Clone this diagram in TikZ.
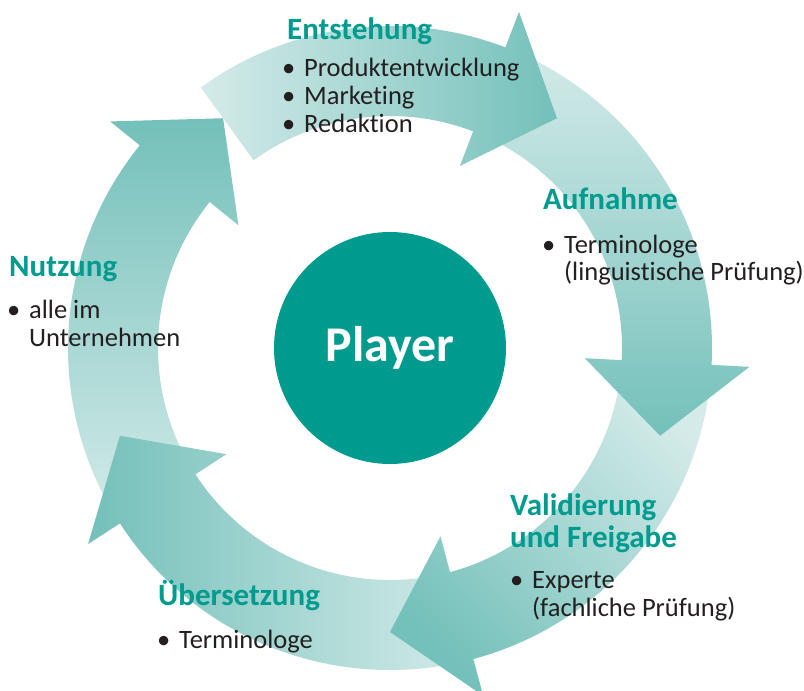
\documentclass[tikz,border=0pt]{standalone}
\usepackage{fontspec}
\setmainfont{Carlito}[Ligatures=NoCommon]
\definecolor{playerteal}{RGB}{0,155,143}
\definecolor{arrowdark}{RGB}{116,192,186}
\definecolor{arrowlight}{RGB}{212,235,233}
\definecolor{itemblack}{RGB}{35,31,32}
\tikzset{
  stage/.style={anchor=base west, inner sep=0pt, text=playerteal, font=\fontsize{31}{32}\selectfont\bfseries},
  items/.style={anchor=base west, inner sep=0pt, text=itemblack, font=\fontsize{26.5}{28}\selectfont},
}
\newcommand{\bul}{\makebox[22pt][l]{\textbullet}}
\def\rin{232}
\def\rout{322}
\def\rbi{195}
\def\rbo{360}
\def\rtip{284}
% #1 tail angle, #2 head base angle, #3 shading angle
\newcommand{\ringarrow}[3]{%
  \path[top color=arrowdark, bottom color=arrowlight, shading angle=#3]
    (#1:\rin) -- (#1:\rout) arc[start angle=#1, end angle=#2, radius=\rout]
    -- (#2:\rbo) -- (#2-15:\rtip) -- (#2:\rbi) -- (#2:\rin)
    arc[start angle=#2, end angle=#1, radius=\rin] -- cycle;}
\begin{document}
\begin{tikzpicture}[x=1pt, y=1pt]
  \useasboundingbox (-390,-343) rectangle (414,348);
  \ringarrow{213}{141}{0}
  \ringarrow{-75}{-147}{90}
  \ringarrow{-3}{-75}{135}
  \ringarrow{69}{-3}{180}
  \ringarrow{126}{69}{-90}
  \node[circle, fill=playerteal, minimum size=232pt, inner sep=0pt, text=white,
        font=\fontsize{50}{50}\selectfont\bfseries] (player) at (0,0) {Player};
  \node[stage] (entstehung) at (-103,308) {Entstehung};
  \node[items] (entitems) at (-108,271) {\begin{tabular}[t]{@{}l@{}l@{}}
      \bul & Produktentwicklung\\ \bul & Marketing\\ \bul & Redaktion\end{tabular}};
  \node[stage] (aufnahme) at (153,138) {Aufnahme};
  \node[items] (aufitems) at (152,95) {\begin{tabular}[t]{@{}l@{}l@{}}
      \bul & Terminologe\\ & (linguistische Prüfung)\end{tabular}};
  \node[stage] (validierung) at (120,-167) {\begin{tabular}[t]{@{}l@{}}
      Validierung\\ und Freigabe\end{tabular}};
  \node[items] (valitems) at (120,-240) {\begin{tabular}[t]{@{}l@{}l@{}}
      \bul & Experte\\ & (fachliche Prüfung)\end{tabular}};
  \node[stage] (uebersetzung) at (-232,-257) {Übersetzung};
  \node[items] (ueitems) at (-233,-300) {\begin{tabular}[t]{@{}l@{}l@{}}
      \bul & Terminologe\end{tabular}};
  \node[stage] (nutzung) at (-381,71) {Nutzung};
  \node[items] (nutitems) at (-383,30) {\begin{tabular}[t]{@{}l@{}l@{}}
      \bul & alle im\\ & Unternehmen\end{tabular}};
\end{tikzpicture}
\end{document}
